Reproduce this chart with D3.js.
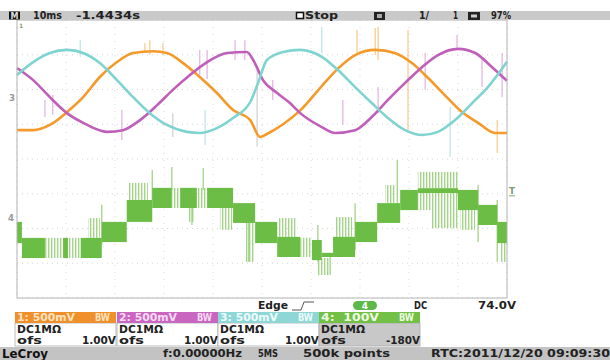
<!DOCTYPE html>
<html>
<head>
<meta charset="utf-8">
<script src="https://cdn.jsdelivr.net/npm/d3@7"></script>
<style>
  body { margin: 0; background: #fff; }
  svg text { font-family: "DejaVu Sans", sans-serif; font-weight: bold; white-space: pre; }
</style>
</head>
<body>
<div id="chart"></div>
<script>
// screen time in ms (10 ms/div), vertical position in divisions
const timeDomain = [0, 100];
const divDomain = [-4, 4];

// channel 1 (orange), [t, div]
const ch1 = [[0,0.83],[3.3,0.83],[6.7,0.98],[10.2,1.35],[13.5,1.78],[16.9,2.36],[20.4,2.79],[23.7,3.05],[27.8,3.1],[30.6,3.05],[33.9,2.76],[37.3,2.36],[40.8,1.9],[44.1,1.41],[47.6,1.12],[49.6,0.63],[51.0,0.72],[54.3,1.0],[57.8,1.4],[62.2,2.1],[65.5,2.6],[69.0,2.99],[73.1,3.14],[77.1,3.05],[80.6,2.76],[83.9,2.33],[87.3,1.84],[90.8,1.35],[94.1,1.04],[97.6,0.75],[100,0.75]];
// channel 2 (magenta)
const ch2 = [[0,2.62],[3.3,2.27],[6.7,1.78],[10.2,1.32],[13.5,1.04],[18.4,0.78],[21.6,0.83],[25.1,1.12],[28.6,1.55],[31.8,1.99],[35.3,2.42],[38.8,2.79],[42.9,3.05],[46.9,3.08],[48.2,2.85],[50.2,2.27],[53.1,1.9],[55.7,1.61],[57.8,1.32],[62.2,0.92],[64.9,0.75],[69.0,0.83],[72.4,1.21],[75.7,1.7],[79.2,2.19],[82.7,2.65],[85.9,2.99],[90.0,3.17],[93.5,3.05],[96.9,2.65],[100,2.25]];
// channel 3 (cyan)
const ch3 = [[0,2.42],[3.3,2.79],[6.7,3.05],[10.2,3.14],[13.5,3.05],[16.9,2.76],[20.4,2.27],[23.7,1.78],[27.1,1.32],[30.6,0.98],[34.7,0.78],[37.3,0.75],[40.8,0.89],[44.1,1.18],[47.6,1.64],[49.2,2.19],[51.0,2.85],[54.3,3.08],[57.8,3.14],[62.2,2.94],[65.5,2.56],[69.0,2.07],[72.4,1.61],[75.7,1.18],[79.2,0.83],[82.7,0.69],[85.9,0.78],[89.4,1.12],[92.9,1.61],[96.1,2.07],[100,2.8]];

// channel 4 (green) switching bands: [t0, t1, top, bottom]
const ch4Bands = [[0,1.0,-1.81,-2.42],[1.0,5.7,-2.27,-2.85],[9.4,10.4,-2.27,-2.85],[13.0,17.3,-2.27,-2.85],[17.3,22.4,-1.81,-2.39],[22.4,27.6,-1.18,-1.81],[27.6,31.6,-0.83,-1.41],[33.3,36.7,-0.83,-1.41],[38.8,44.1,-0.83,-1.41],[44.1,48.6,-1.27,-1.84],[48.6,53.1,-1.81,-2.42],[53.1,57.8,-2.24,-2.82],[60.2,62.2,-2.33,-2.91],[62.2,64.5,-2.70,-2.82],[64.5,69.0,-2.24,-2.82],[69.0,73.5,-1.81,-2.39],[73.5,78.2,-1.27,-1.84],[78.2,81.8,-0.89,-1.47],[81.8,90.0,-0.84,-0.98],[90.0,94.1,-0.89,-1.47],[94.1,98.0,-1.32,-1.90],[98.0,100,-1.81,-2.42]];
// channel 4 faint pulse areas
const ch4Ghost = [[5.7,9.4,-2.27,-2.85],[10.4,13.0,-2.27,-2.85],[14.5,16.9,-1.70,-2.27],[22.7,26.7,-0.69,-1.18],[31.6,33.3,-0.83,-1.41],[36.7,38.8,-0.83,-1.41],[34.9,36.3,-1.41,-1.81],[41.4,43.9,-1.41,-2.04],[46.5,48.4,-1.84,-2.96],[53.3,56.9,-1.70,-2.24],[57.8,60.2,-2.27,-2.82],[61.4,63.9,-2.85,-3.34],[64.9,68.4,-1.67,-2.24],[75.1,77.1,-0.75,-1.27],[81.8,90.0,-0.37,-0.84],[81.8,84.5,-0.98,-1.47],[84.5,90.0,-0.98,-1.99],[90.4,93.5,-1.47,-2.04],[98.6,99.8,-2.42,-2.96]];
// channel 4 spikes: [t, top, bottom]
const ch4Spikes = [[27.6,-0.32,-1.18],[31.6,-0.23,-0.89],[38.0,-0.26,-0.89],[35.7,-1.41,-1.9],[17.3,-1.32,-2.47],[47.3,-1.84,-2.96],[77.6,-0.03,-1.61],[69.0,-1.27,-2.62],[61.4,-1.9,-2.96],[94.1,-0.75,-2.39],[98.0,-1.18,-2.96],[63.9,-2.76,-3.34]];

// noise spikes on channels 1-3: [ch, t, top, bottom]
const noiseSpikes = [[3,12.9,3.42,2.94],[2,5.7,1.7,1.21],[2,7.3,1.84,1.27],[2,21.4,1.41,0.55],[1,26.1,3.34,3.05],[1,27.1,3.42,2.99],[1,29.8,3.34,2.99],[0,31.8,1.32,0.63],[2,37.3,3.14,2.42],[2,38.8,3.14,2.3],[3,38.4,1.41,0.4],[2,44.5,3.42,2.85],[2,46.5,3.42,2.85],[0,49.0,2.56,0.35],[2,52.2,2.27,1.7],[3,62.2,3.8,3.05],[2,66.5,1.7,0.98],[1,69.4,3.71,3.05],[1,73.1,3.77,2.99],[1,73.7,3.8,2.85],[1,79.8,3.71,0.83],[2,73.7,2.07,1.32],[2,83.3,3.05,1.99],[3,88.4,1.5,0.06],[2,89.8,3.57,3.14],[2,94.9,2.94,2.07],[1,98.0,1.12,0.17],[2,99.0,3.05,1.78]];

// info panels
const chLabels = ["1: 500mV", "2: 500mV", "3: 500mV", "4:\u00a0\u00a0100V"];
const chCoupling = ["DC1M\u03A9", "DC1M\u03A9", "DC1M\u03A9", "DC1M\u03A9"];
const chOffsets = ["1.00V", "1.00V", "1.00V", "-180V"];
const triggerInfo = { type: "Edge", source: "4", coupling: "DC", level: "74.0V" };

const lineColors = ["#f39a2b", "#bf5fb9", "#7fd3d0"];
const spikeColors = ["#cfcfcf", "#f8c98a", "#e3b0df", "#b9e6e4"];
const headColors = ["#f0902a", "#c866c0", "#8fd6d6", "#72c046"];
const headText = ["#fde3c0", "#f8dcf4", "#eefcfc", "#eefbe2"];

const W = 610, H = 360;
const svg = d3.select("#chart").append("svg")
  .attr("width", W).attr("height", H);

const x = d3.scaleLinear().domain(timeDomain).range([17, 507]);
const y = d3.scaleLinear().domain(divDomain).range([298, 20]);

const defs = svg.append("defs");
const pat = defs.append("pattern").attr("id", "ghost")
  .attr("patternUnits", "userSpaceOnUse").attr("width", 3).attr("height", 4);
pat.append("rect").attr("x", 0).attr("y", 0).attr("width", 1.4).attr("height", 4).attr("fill", "#a3d488");

// grid
const grid = svg.append("g");
grid.selectAll(".gx").data(x.ticks(10)).enter().append("line")
  .attr("x1", d => x(d)).attr("x2", d => x(d))
  .attr("y1", y(4)).attr("y2", y(-4))
  .attr("stroke", "#d6d6d6").attr("stroke-dasharray", "1,6");
grid.selectAll(".gy").data(y.ticks(8)).enter().append("line")
  .attr("x1", x(0)).attr("x2", x(100))
  .attr("y1", d => y(d)).attr("y2", d => y(d))
  .attr("stroke", "#d6d6d6").attr("stroke-dasharray", "1,4");

// channel 4
const g4 = svg.append("g");
g4.selectAll(".gh").data(ch4Ghost).enter().append("rect")
  .attr("x", d => x(d[0])).attr("width", d => x(d[1]) - x(d[0]))
  .attr("y", d => y(d[2])).attr("height", d => y(d[3]) - y(d[2]))
  .attr("fill", "url(#ghost)");
g4.selectAll(".sp").data(ch4Spikes).enter().append("line")
  .attr("x1", d => x(d[0])).attr("x2", d => x(d[0]))
  .attr("y1", d => y(d[1])).attr("y2", d => y(d[2]))
  .attr("stroke", "#9bcf7e").attr("stroke-width", 1.2);
g4.selectAll(".bd").data(ch4Bands).enter().append("rect")
  .attr("x", d => x(d[0])).attr("width", d => x(d[1]) - x(d[0]))
  .attr("y", d => y(d[2])).attr("height", d => y(d[3]) - y(d[2]))
  .attr("fill", "#6cbd45");

// noise spikes
svg.append("g").selectAll("line").data(noiseSpikes).enter().append("line")
  .attr("x1", d => x(d[1])).attr("x2", d => x(d[1]))
  .attr("y1", d => y(d[2])).attr("y2", d => y(d[3]))
  .attr("stroke", d => spikeColors[d[0]]).attr("stroke-width", 1.2);

// channels 1-3
const line = d3.line().x(d => x(d[0])).y(d => y(d[1])).curve(d3.curveMonotoneX);
[ch1, ch2, ch3].forEach((s, i) => {
  svg.append("path").datum(s)
    .attr("d", line).attr("fill", "none")
    .attr("stroke", lineColors[i]).attr("stroke-width", 2.6)
    .attr("stroke-linejoin", "round");
});

// frame
svg.append("rect").attr("x", x(0)).attr("y", y(4)).attr("width", x(100) - x(0)).attr("height", y(-4) - y(4))
  .attr("fill", "none").attr("stroke", "#b4b4b4").attr("stroke-width", 1);

function txt(px, py, s, w, o) {
  o = o || {};
  const t = svg.append("text").attr("x", px).attr("y", py).text(s)
    .attr("font-size", o.size || 10).attr("fill", o.fill || "#222");
  if (w) t.attr("textLength", w).attr("lengthAdjust", "spacingAndGlyphs");
  if (o.anchor) t.attr("text-anchor", o.anchor);
  return t;
}

// channel markers
txt(19, 28, "1", 0, { size: 6, fill: "#8aa070" });
txt(9, 101, "3", 6, { size: 9, fill: "#999" });
txt(8, 221, "4", 6, { size: 9, fill: "#999" });
txt(509, 194, "T", 6, { size: 9, fill: "#7c9a6c" });
svg.append("line").attr("x1", 509).attr("x2", 515).attr("y1", y((74 - 180) / 100)).attr("y2", y((74 - 180) / 100))
  .attr("stroke", "#8aa87a");

// top bar
svg.append("rect").attr("x", 0).attr("y", 11).attr("width", W).attr("height", 9).attr("fill", "#c9c9c9");
svg.append("rect").attr("x", 9).attr("y", 11.5).attr("width", 11).attr("height", 8).attr("fill", "#111");
txt(10.5, 18.6, "M", 8, { size: 9, fill: "#ddd" });
txt(33, 19, "10ms", 29, { size: 10 });
txt(76, 19, "-1.4434s", 64, { size: 10 });
svg.append("rect").attr("x", 296.5).attr("y", 12.5).attr("width", 7).attr("height", 6).attr("fill", "#fff").attr("stroke", "#111").attr("stroke-width", 1.5);
txt(305, 19, "Stop", 33, { size: 10 });
svg.append("rect").attr("x", 374).attr("y", 12).attr("width", 11).attr("height", 8).attr("fill", "#222");
svg.append("rect").attr("x", 377).attr("y", 14).attr("width", 5).attr("height", 4).attr("fill", "#aaa");
txt(419, 19, "1/", 10, { size: 10 });
txt(453, 19, "1", 5, { size: 10 });
svg.append("rect").attr("x", 468).attr("y", 12).attr("width", 12).attr("height", 8).attr("fill", "#222");
svg.append("rect").attr("x", 471).attr("y", 14.5).attr("width", 6).attr("height", 3).attr("fill", "#ccc");
txt(491, 19, "97%", 20, { size: 10 });

// trigger line
txt(258, 309, triggerInfo.type, 30, { size: 10 });
svg.append("path").attr("d", "M292,310 H301 L304,302 H314").attr("fill", "none").attr("stroke", "#555").attr("stroke-width", 1);
svg.append("rect").attr("x", 353).attr("y", 301).attr("width", 24).attr("height", 9).attr("rx", 4.5).attr("fill", "#5cb848");
txt(365, 309, triggerInfo.source, 0, { size: 9, fill: "#fff", anchor: "middle" });
txt(414, 309, triggerInfo.coupling, 13, { size: 10 });
txt(478, 309, triggerInfo.level, 38, { size: 10 });

// channel boxes
const boxX = [15, 117, 218, 319], boxW = 101;
chLabels.forEach((lab, i) => {
  const bx = boxX[i];
  svg.append("rect").attr("x", bx).attr("y", 323).attr("width", boxW).attr("height", 23)
    .attr("fill", i === 3 ? "#c8c8c8" : "#fff").attr("stroke", "#aaa").attr("stroke-width", 0.8);
  svg.append("rect").attr("x", bx).attr("y", 312).attr("width", boxW).attr("height", 11).attr("fill", headColors[i]);
  txt(bx + 2, 321, lab, 58, { size: 10, fill: headText[i] });
  txt(bx + boxW - 6, 321, "BW", 15, { size: 10, fill: headText[i], anchor: "end" });
  txt(bx + 2, 333, chCoupling[i], 44, { size: 10 });
  txt(bx + 2, 344, "ofs", 25, { size: 10 });
  txt(bx + boxW, 344, chOffsets[i], 34, { size: 10, anchor: "end" });
});

// bottom bar
svg.append("rect").attr("x", 0).attr("y", 347).attr("width", W).attr("height", 13).attr("fill", "#c3c3c3");
txt(2, 358, "LeCroy", 46, { size: 12, fill: "#111" });
txt(163, 357, "f:0.00000Hz", 79, { size: 10 });
txt(258, 357, "5MS", 20, { size: 10 });
txt(303, 357, "500k points", 87, { size: 10 });
txt(431, 357, "RTC:2011/12/20 09:09:30", 179, { size: 10 });
</script>
</body>
</html>
